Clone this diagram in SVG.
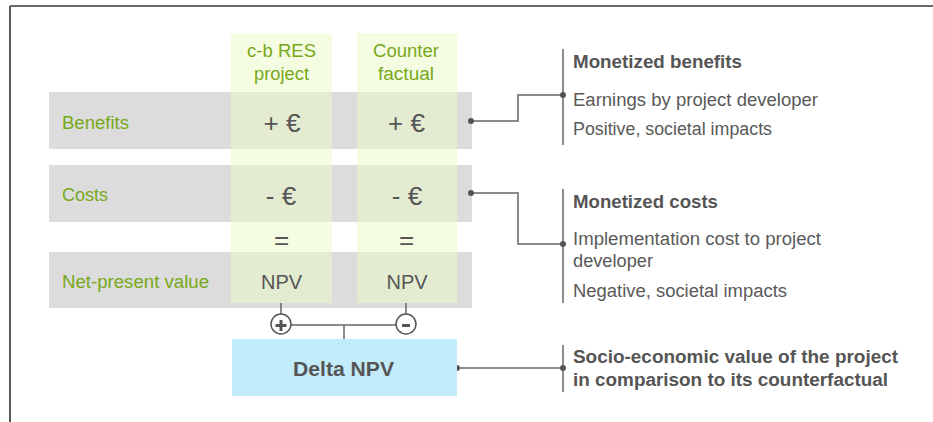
<svg xmlns="http://www.w3.org/2000/svg" width="933" height="422" viewBox="0 0 933 422">
<style>
.row{fill:#DCDCDC}
.col{fill:#E9FBC5;fill-opacity:0.5}
text{font-family:"Liberation Sans",Arial,sans-serif}
.lbl{font-size:18px;fill:#78A81A}
.val{font-size:26px;fill:#555555;text-anchor:middle}
.npv{font-size:20px;fill:#555555;text-anchor:middle}
.txt{font-size:18px;fill:#595959}
.hd{font-size:18px;font-weight:bold;fill:#555555}
.ln{stroke:#666666;stroke-width:1.5;fill:none}
.dot{fill:#555555}
</style>
<g id="frame">
<line x1="10" y1="6" x2="933" y2="6" stroke="#6A6A6A" stroke-width="2"/>
<line x1="10" y1="6" x2="10" y2="422" stroke="#5A5A5A" stroke-width="2"/>
</g>
<g id="rows">
<rect class="row" x="49" y="92" width="423" height="57"/>
<rect class="row" x="49" y="165" width="423" height="57"/>
<rect class="row" x="49" y="252" width="423" height="56"/>
</g>
<g id="col-project">
<rect class="col" x="231" y="34" width="101" height="269"/>
<text class="lbl" x="281.5" y="57" text-anchor="middle" textLength="69" lengthAdjust="spacingAndGlyphs">c-b RES</text>
<text class="lbl" x="281.5" y="80" text-anchor="middle" textLength="55" lengthAdjust="spacingAndGlyphs">project</text>
</g>
<g id="col-counter">
<rect class="col" x="357" y="33" width="100" height="270"/>
<text class="lbl" x="406" y="57" text-anchor="middle" textLength="66" lengthAdjust="spacingAndGlyphs">Counter</text>
<text class="lbl" x="406" y="80" text-anchor="middle" textLength="56" lengthAdjust="spacingAndGlyphs">factual</text>
</g>
<g id="labels">
<text class="lbl" x="62" y="129" textLength="67" lengthAdjust="spacingAndGlyphs">Benefits</text>
<text class="lbl" x="62" y="201" textLength="46" lengthAdjust="spacingAndGlyphs">Costs</text>
<text class="lbl" x="62" y="288" textLength="147" lengthAdjust="spacingAndGlyphs">Net-present value</text>
</g>
<g id="values">
<text class="val" x="282" y="132">+ €</text>
<text class="val" x="406.5" y="132">+ €</text>
<text class="val" x="281" y="205">- €</text>
<text class="val" x="407" y="205">- €</text>
<text class="val" x="281.5" y="249">=</text>
<text class="val" x="406.5" y="249">=</text>
<text class="npv" x="281.5" y="289">NPV</text>
<text class="npv" x="407" y="289">NPV</text>
</g>
<g id="connectors">
<line class="ln" x1="281" y1="303" x2="281" y2="314"/>
<line class="ln" x1="406" y1="303" x2="406" y2="314"/>
<line class="ln" x1="291" y1="325" x2="396" y2="325"/>
<line class="ln" x1="344" y1="325" x2="344" y2="339"/>
<polyline class="ln" points="471,121 518,121 518,95 563,95"/>
<polyline class="ln" points="471,193 518,193 518,244 563,244"/>
<line class="ln" x1="457" y1="368" x2="563" y2="368"/>
<line class="ln" x1="563" y1="49" x2="563" y2="145"/>
<line class="ln" x1="563" y1="189" x2="563" y2="303"/>
<line class="ln" x1="563" y1="345" x2="563" y2="392"/>
<circle class="dot" cx="471" cy="121" r="3"/>
<circle class="dot" cx="563" cy="95" r="3"/>
<circle class="dot" cx="471" cy="193" r="3"/>
<circle class="dot" cx="563" cy="244" r="3"/>
<circle class="dot" cx="457" cy="368" r="3"/>
<circle class="dot" cx="563" cy="368" r="3"/>
</g>
<g id="plus">
<circle cx="281" cy="324" r="10" fill="#FFFFFF" stroke="#555555" stroke-width="1.5"/>
<path d="M275.5 325.5 H286.5 M281 320 V331" stroke="#555555" stroke-width="3"/>
</g>
<g id="minus">
<circle cx="406" cy="324" r="10" fill="#FFFFFF" stroke="#555555" stroke-width="1.5"/>
<path d="M402 325.5 H410" stroke="#555555" stroke-width="3"/>
</g>
<g id="delta">
<rect x="232" y="339" width="225" height="57" fill="#C3ECFB"/>
<text x="343.5" y="376" text-anchor="middle" textLength="101" lengthAdjust="spacingAndGlyphs" style="font-size:21px;font-weight:bold;fill:#555555">Delta NPV</text>
</g>
<g id="benefits-note">
<text class="hd" x="573" y="68" textLength="169" lengthAdjust="spacingAndGlyphs">Monetized benefits</text>
<text class="txt" x="573" y="106" textLength="245" lengthAdjust="spacingAndGlyphs">Earnings by project developer</text>
<text class="txt" x="573" y="135" textLength="199" lengthAdjust="spacingAndGlyphs">Positive, societal impacts</text>
</g>
<g id="costs-note">
<text class="hd" x="573" y="208" textLength="145" lengthAdjust="spacingAndGlyphs">Monetized costs</text>
<text class="txt" x="573" y="245" textLength="248" lengthAdjust="spacingAndGlyphs">Implementation cost to project</text>
<text class="txt" x="573" y="267" textLength="80" lengthAdjust="spacingAndGlyphs">developer</text>
<text class="txt" x="573" y="297" textLength="214" lengthAdjust="spacingAndGlyphs">Negative, societal impacts</text>
</g>
<g id="delta-note">
<text class="hd" x="573" y="363" textLength="325" lengthAdjust="spacingAndGlyphs">Socio-economic value of the project</text>
<text class="hd" x="573" y="386" textLength="315" lengthAdjust="spacingAndGlyphs">in comparison to its counterfactual</text>
</g>
</svg>
